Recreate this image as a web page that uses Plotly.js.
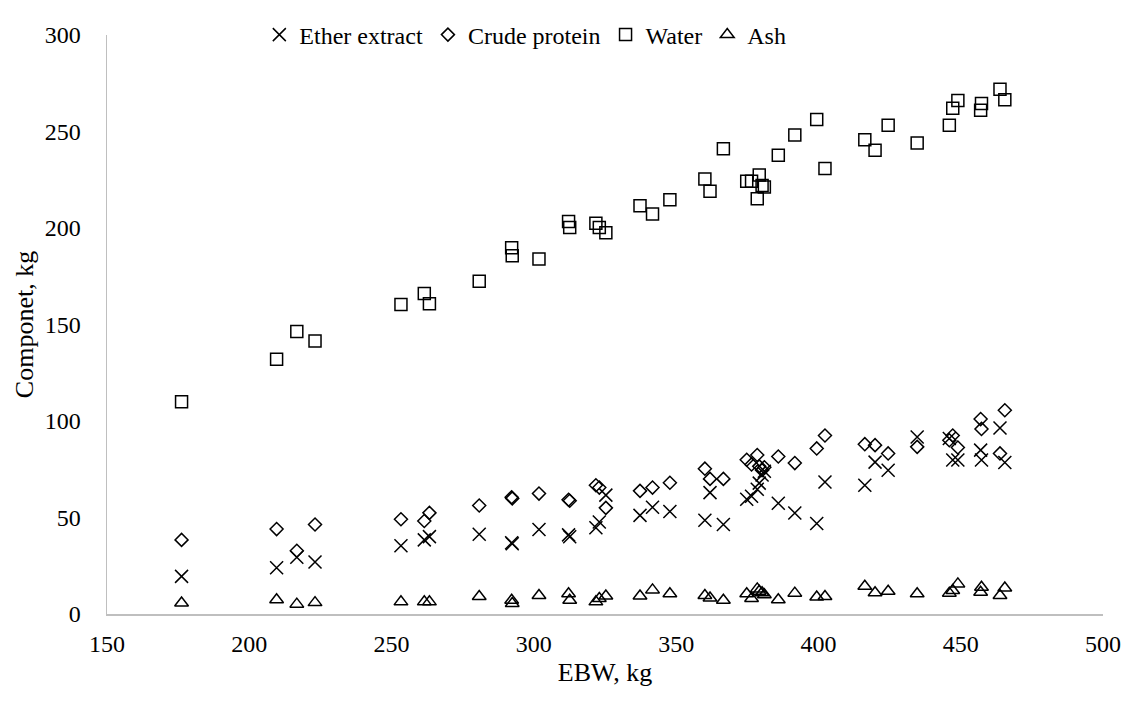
<!DOCTYPE html>
<html>
<head>
<meta charset="utf-8">
<script src="https://cdn.plot.ly/plotly-3.0.1.min.js"></script>
<style>html,body{margin:0;padding:0;background:#fff;}#chart{width:1130px;height:702px;}</style>
</head>
<body>
<div id="chart"></div>
<script>
const ebw = [176.2, 209.6, 216.7, 223.1, 253.3, 261.5, 263.3, 280.8, 292.2, 292.4, 301.8, 312.2, 312.6, 321.8, 323.0, 325.3, 337.3, 341.7, 347.8, 360.1, 361.9, 366.6, 374.8, 376.5, 378.5, 379.2, 380.2, 381.0, 385.9, 391.7, 399.4, 402.3, 416.3, 419.9, 424.5, 434.7, 446.0, 447.2, 449.0, 457.0, 457.3, 463.8, 465.5];
const etherExtract = [19.5, 24.0, 29.4, 26.9, 35.4, 38.4, 40.1, 41.3, 36.9, 36.4, 43.8, 41.0, 40.0, 44.7, 47.7, 61.6, 51.1, 55.3, 53.1, 48.6, 62.9, 46.4, 59.5, 61.0, 64.6, 67.8, 72.0, 74.0, 57.4, 52.3, 46.9, 68.4, 66.7, 78.7, 74.5, 91.7, 90.9, 79.8, 79.8, 84.9, 79.8, 96.4, 78.5];
const crudeProtein = [38.4, 44.0, 32.8, 46.4, 49.1, 48.2, 52.4, 56.2, 60.5, 59.9, 62.4, 59.2, 58.7, 66.7, 65.5, 55.0, 63.8, 65.5, 68.0, 75.3, 70.0, 70.0, 79.9, 77.5, 82.4, 76.5, 74.5, 76.0, 81.6, 78.2, 85.8, 92.5, 88.0, 87.5, 83.2, 86.6, 90.0, 92.5, 86.3, 101.0, 95.9, 83.2, 105.6];
const water = [110.0, 132.0, 146.4, 141.5, 160.3, 166.0, 160.8, 172.4, 189.8, 185.6, 183.9, 203.4, 200.3, 202.5, 200.3, 197.5, 211.5, 207.3, 214.7, 225.4, 219.0, 241.0, 224.2, 224.2, 215.2, 227.4, 222.0, 221.2, 237.7, 248.2, 256.2, 230.8, 245.7, 240.3, 253.3, 244.0, 253.3, 262.1, 266.0, 261.0, 264.5, 271.9, 266.5];
const ash = [5.7, 7.4, 5.1, 5.9, 6.3, 6.3, 6.3, 9.1, 7.1, 5.4, 9.6, 10.5, 7.1, 6.3, 8.0, 9.3, 9.3, 12.5, 10.5, 9.6, 8.3, 7.1, 10.5, 8.0, 13.0, 11.8, 11.0, 10.0, 7.4, 10.8, 8.8, 9.1, 14.4, 11.0, 11.8, 10.5, 10.8, 12.2, 15.6, 11.3, 13.9, 9.6, 13.5];

const seriesNames = ["Ether extract", "Crude protein", "Water", "Ash"];
const xTicks = [150, 200, 250, 300, 350, 400, 450, 500];
const yTicks = [0, 50, 100, 150, 200, 250, 300];

const FONT = "Liberation Serif, Times New Roman, serif";

function mk(y, name, symbol, size) {
  return {
    x: ebw, y: y, name: name, type: "scatter", mode: "markers",
    marker: {symbol: symbol, size: size, color: "#000", line: {color: "#000", width: 1.5}},
    cliponaxis: false
  };
}

const traces = [
  mk(etherExtract, seriesNames[0], "x-thin-open", 13),
  mk(crudeProtein, seriesNames[1], "diamond-open", 10),
  mk(water, seriesNames[2], "square-open", 12),
  mk(ash, seriesNames[3], "triangle-up-open", 12)
];

const layout = {
  width: 1130, height: 702,
  margin: {l: 107, r: 27, t: 23, b: 88},
  paper_bgcolor: "#fff", plot_bgcolor: "#fff",
  font: {family: FONT, size: 24, color: "#000"},
  showlegend: true,
  legend: {
    orientation: "h", x: 0.42, xanchor: "center", y: 1.0, yanchor: "middle",
    font: {family: FONT, size: 24, color: "#000"},
    bgcolor: "rgba(0,0,0,0)", itemwidth: 30, tracegroupgap: 0
  },
  xaxis: {
    range: [150, 500], tickmode: "array", tickvals: xTicks, ticktext: xTicks.map(String),
    showgrid: false, zeroline: false, showline: true, linecolor: "#bfbfbf", linewidth: 1.5,
    ticks: "", ticklabelstandoff: 8,
    tickfont: {family: FONT, size: 24, color: "#000"},
    title: {text: "EBW, kg", font: {family: FONT, size: 26, color: "#000"}, standoff: 6}
  },
  yaxis: {
    range: [0, 300], tickmode: "array", tickvals: yTicks, ticktext: yTicks.map(String),
    showgrid: false, zeroline: false, showline: true, linecolor: "#bfbfbf", linewidth: 1.5,
    ticks: "", ticklabelstandoff: 20,
    tickfont: {family: FONT, size: 24, color: "#000"},
    title: {text: "Componet, kg", font: {family: FONT, size: 26, color: "#000"}, standoff: 3}
  }
};

Plotly.newPlot("chart", traces, layout, {displayModeBar: false, staticPlot: true});
</script>
</body>
</html>
